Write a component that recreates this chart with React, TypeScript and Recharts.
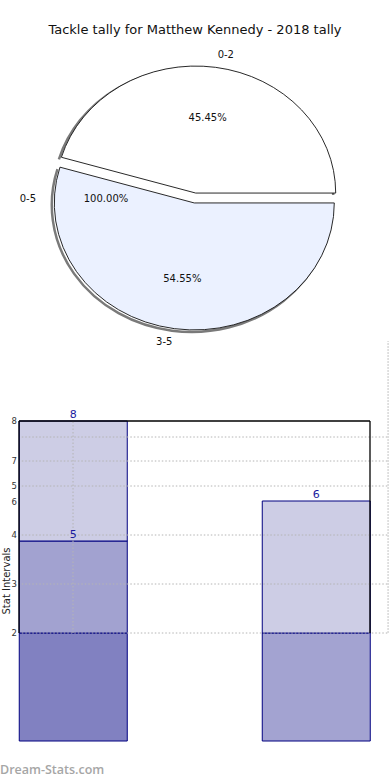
import {
  PieChart,
  Pie,
  Cell,
  BarChart,
  Bar,
  XAxis,
  YAxis,
  LabelList,
  ReferenceLine,
} from "recharts";

// pie slices
const sliceNames = ["0-2", "3-5", "0-5"];
const sliceValues = [5, 6, 0];
const slicePercentText = ["45.45%", "54.55%", "100.00%"];
const sliceColors = ["#ffffff", "#ebf1ff", "#ffffff"];

// stacked bars (middle category is an empty gap)
const barCategories = ["left", "gap", "right"];
const lowerValues = [2.7, null, 2.7];
const middleValues = [2.3, null, 3.3];
const upperValues = [3, null, null];
const middleLabels = ["5", "", "6"];
const upperLabels = ["8", "", ""];
const lowerColors = ["#8181c1", "#ffffff", "#a3a3d1"];
const middleColors = ["#a2a2d0", "#ffffff", "#cdcde5"];
const upperColors = ["#cdcde5", "#ffffff", "#cdcde5"];

// y axis as drawn in the source
const yTickValues = [8, 7, 6.375, 5.975, 5.15, 3.925, 2.7];
const yTickLabels = ["8", "7", "5", "6", "4", "3", "2"];
const gridValues = [7.6, 7, 6.375, 5.15, 3.925, 2.7];

const pieData = sliceNames.map((name, i) => ({ name, value: sliceValues[i] }));

const barData = barCategories.map((name, i) => ({
  name,
  lower: lowerValues[i],
  middle: middleValues[i],
  upper: upperValues[i],
  middleLabel: middleLabels[i],
  upperLabel: upperLabels[i],
}));

const SQUASH = 127 / 140;
const EXPLODE = 5;
const FONT = "'DejaVu Sans', sans-serif";
// frame axis runs 0..2 across the plot
const FRAME_END = 2;

function onEllipse(cx: number, cy: number, rx: number, ry: number, deg: number) {
  const r = (deg * Math.PI) / 180;
  return [cx + rx * Math.cos(r), cy - ry * Math.sin(r)];
}

function EllipseSlice(props: any) {
  const { cx, cy, outerRadius, startAngle, endAngle, fill } = props;
  if (Math.abs(endAngle - startAngle) < 0.01) return null;
  const rx = outerRadius;
  const ry = outerRadius * SQUASH;
  const mid = ((startAngle + endAngle) / 2) * (Math.PI / 180);
  const ox = cx + EXPLODE * Math.cos(mid);
  const oy = cy - EXPLODE * Math.sin(mid);
  const [x1, y1] = onEllipse(ox, oy, rx, ry, startAngle);
  const [x2, y2] = onEllipse(ox, oy, rx, ry, endAngle);
  const large = Math.abs(endAngle - startAngle) > 180 ? 1 : 0;
  const arc = `M${x1},${y1} A${rx},${ry} 0 ${large} 0 ${x2},${y2}`;
  return (
    <g>
      <path d={arc} transform="translate(-2.5,2)" fill="none" stroke="#7a7a7a" strokeWidth={2.5} />
      <path d={`M${ox},${oy} L${x1},${y1} A${rx},${ry} 0 ${large} 0 ${x2},${y2} Z`} fill={fill} stroke="#111" strokeWidth={0.9} />
    </g>
  );
}

function renderSliceLabel(props: any) {
  const { cx, cy, outerRadius, midAngle, index } = props;
  const angle = sliceValues[index] === 0 ? 180 : midAngle;
  const rad = (angle * Math.PI) / 180;
  const rx = outerRadius;
  const ry = outerRadius * SQUASH;
  const ox = cx + EXPLODE * Math.cos(rad);
  const oy = cy - EXPLODE * Math.sin(rad);
  const nx = ox + 1.1 * rx * Math.cos(rad);
  const ny = oy - 1.1 * ry * Math.sin(rad);
  const px = ox + 0.6 * rx * Math.cos(rad);
  const py = oy - 0.6 * ry * Math.sin(rad);
  return (
    <g key={`lbl-${index}`}>
      <text x={nx} y={ny} textAnchor={Math.cos(rad) >= 0 ? "start" : "end"} dominantBaseline="central" fontSize={10} fontFamily={FONT} fill="#111">
        {sliceNames[index]}
      </text>
      <text x={px} y={py} textAnchor="middle" dominantBaseline="central" fontSize={10} fontFamily={FONT} fill="#111">
        {slicePercentText[index]}
      </text>
    </g>
  );
}

function YTick(props: any) {
  const { x, y, payload } = props;
  const i = yTickValues.indexOf(payload.value);
  return (
    <text x={x} y={y} textAnchor="end" dominantBaseline="central" fontSize={8.5} fontFamily={FONT} fill="#333">
      {i >= 0 ? yTickLabels[i] : ""}
    </text>
  );
}

function YTitle(props: any) {
  const vb = props.viewBox || { x: 0, y: 421, width: 19, height: 320 };
  const x = 6;
  const y = vb.y + vb.height / 2;
  return (
    <text x={x} y={y} transform={`rotate(-90 ${x} ${y})`} textAnchor="middle" dominantBaseline="central" fontSize={10} fontFamily={FONT} fill="#222">
      Stat Intervals
    </text>
  );
}

const dotted = { stroke: "#b4b4b4", strokeDasharray: "1.5 2", strokeWidth: 1 };
const frameLine = { stroke: "#000", strokeWidth: 1.3 };

export default function App() {
  return (
    <div style={{ position: "absolute", left: 0, top: 0, width: 390, height: 780, background: "#fff", fontFamily: FONT }}>
      <div style={{ position: "absolute", top: 22, left: 0, width: 390, textAlign: "center", fontSize: 13, color: "#111" }}>
        Tackle tally for Matthew Kennedy - 2018 tally
      </div>

      <div style={{ position: "absolute", top: 0, left: 0 }}>
        <PieChart width={390} height={352} margin={{ top: 0, right: 0, bottom: 0, left: 0 }}>
          <Pie
            data={pieData}
            dataKey="value"
            nameKey="name"
            cx={195}
            cy={198}
            outerRadius={140}
            startAngle={0}
            endAngle={360}
            label={renderSliceLabel}
            labelLine={false}
            shape={EllipseSlice}
            isAnimationActive={false}
          >
            {pieData.map((d, i) => (
              <Cell key={d.name} fill={sliceColors[i]} />
            ))}
          </Pie>
        </PieChart>
      </div>

      <div style={{ position: "absolute", top: 330, left: 0 }}>
        <BarChart width={390} height={450} data={barData} margin={{ top: 91, right: 20, bottom: 39, left: 0 }}>
          <XAxis dataKey="name" hide padding={{ left: -6.75, right: -6.75 }} />
          <XAxis xAxisId="frame" type="number" domain={[0, FRAME_END]} hide allowDataOverflow />
          <YAxis
            type="number"
            domain={[0, 8]}
            width={19}
            ticks={yTickValues}
            interval={0}
            tick={YTick}
            tickLine={false}
            tickSize={0}
            tickMargin={2}
            axisLine={false}
            label={{ value: "Stat Intervals", content: YTitle }}
          />
          <Bar dataKey="lower" stackId="s" barSize={108} stroke="#000080" strokeWidth={1} isAnimationActive={false}>
            {barData.map((d, i) => (
              <Cell key={d.name} fill={lowerColors[i]} />
            ))}
          </Bar>
          <Bar dataKey="middle" stackId="s" barSize={108} stroke="#000080" strokeWidth={1} isAnimationActive={false}>
            {barData.map((d, i) => (
              <Cell key={d.name} fill={middleColors[i]} />
            ))}
            <LabelList dataKey="middleLabel" position="top" offset={3} fill="#1a1a9e" fontSize={11} fontFamily={FONT} />
          </Bar>
          <Bar dataKey="upper" stackId="s" barSize={108} stroke="#000080" strokeWidth={1} isAnimationActive={false}>
            {barData.map((d, i) => (
              <Cell key={d.name} fill={upperColors[i]} />
            ))}
            <LabelList dataKey="upperLabel" position="top" offset={3} fill="#1a1a9e" fontSize={11} fontFamily={FONT} />
          </Bar>

          {gridValues.map((v) => (
            <ReferenceLine key={`g${v}`} xAxisId="frame" ifOverflow="visible" segment={[{ x: 0.016, y: v }, { x: 2.102, y: v }]} {...dotted} />
          ))}
          <ReferenceLine segment={[{ x: "left", y: 2.7 }, { x: "left", y: 8 }]} {...dotted} />
          <ReferenceLine xAxisId="frame" ifOverflow="visible" segment={[{ x: 2.103, y: 2.7 }, { x: 2.103, y: 10 }]} stroke="#c4c4c4" strokeDasharray="2 1" />
          <ReferenceLine xAxisId="frame" segment={[{ x: 0, y: 8 }, { x: FRAME_END, y: 8 }]} {...frameLine} />
          <ReferenceLine xAxisId="frame" segment={[{ x: 0, y: 2.7 }, { x: 0, y: 8 }]} {...frameLine} />
          <ReferenceLine xAxisId="frame" segment={[{ x: FRAME_END, y: 2.7 }, { x: FRAME_END, y: 8 }]} {...frameLine} />
        </BarChart>
      </div>

      <div style={{ position: "absolute", top: 761, left: 0, fontSize: 12.5, fontWeight: 600, color: "#a6a6a6", fontFamily: "'Open Sans', sans-serif" }}>
        Dream-Stats.com
      </div>
    </div>
  );
}
